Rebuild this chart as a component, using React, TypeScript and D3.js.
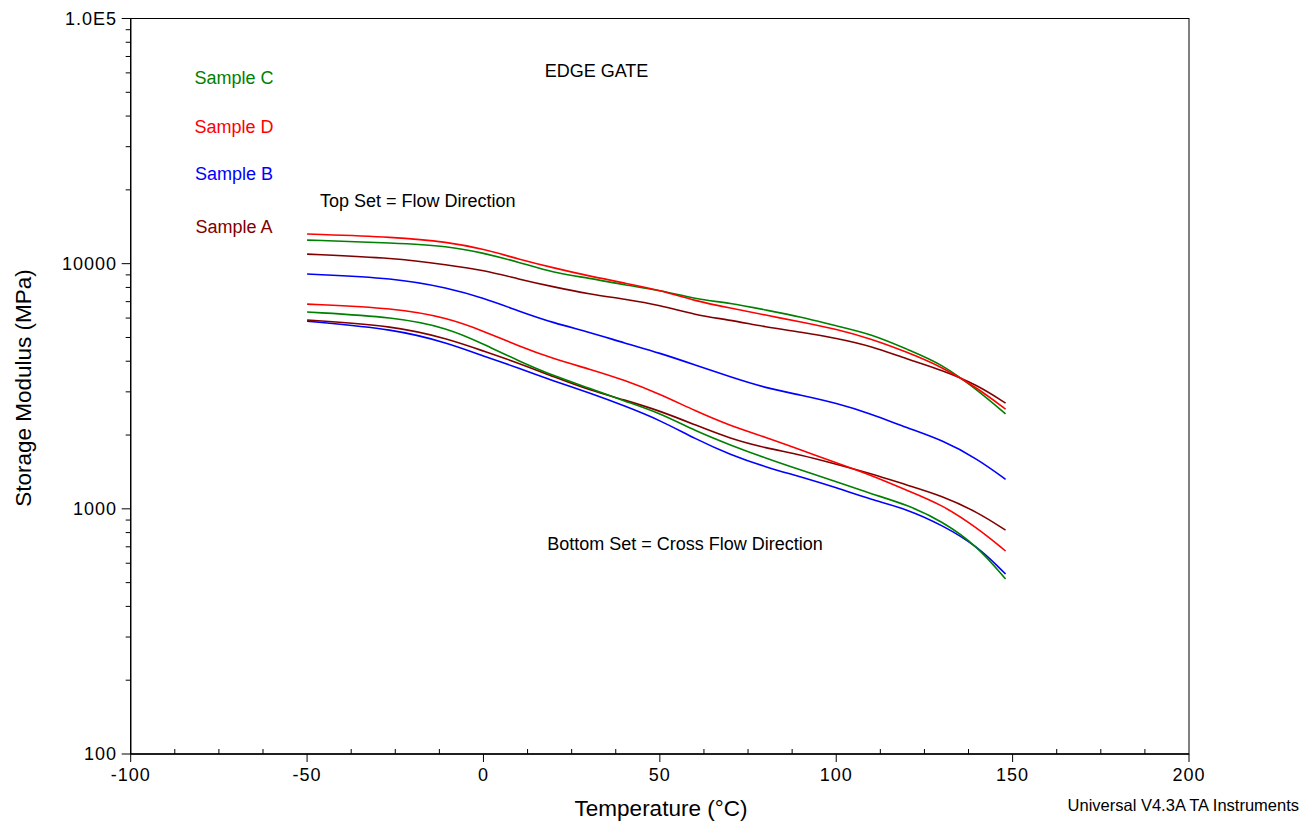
import React from 'react'
import * as d3 from 'd3'

// temperature grid (°C) that the curves were read at
const temps = [-50, -25, -10, 0, 10, 20, 30, 40, 50, 60, 70, 80, 90, 100, 110, 120, 130, 140, 148]

// storage modulus (MPa), flow direction (top set)
const sampleDFlow = [13210, 12840, 12250, 11470, 10440, 9600, 8900, 8330, 7800, 7040, 6590, 6170, 5780, 5410, 4930, 4360, 3790, 3110, 2550]
const sampleCFlow = [12480, 12140, 11800, 11050, 10150, 9160, 8740, 8180, 7800, 7170, 6910, 6470, 6060, 5570, 5160, 4480, 3900, 3050, 2440]
const sampleAFlow = [10940, 10540, 9870, 9420, 8650, 8030, 7520, 7170, 6780, 6170, 5890, 5510, 5260, 4970, 4610, 4080, 3680, 3200, 2700]
const sampleBFlow = [9070, 8740, 7950, 7240, 6410, 5720, 5260, 4740, 4320, 3860, 3450, 3110, 2910, 2700, 2440, 2140, 1910, 1600, 1320]

// storage modulus (MPa), cross flow direction (bottom set)
const sampleDCross = [6840, 6590, 6000, 5310, 4610, 4080, 3720, 3350, 2940, 2510, 2180, 1960, 1740, 1540, 1370, 1190, 1040, 835, 673]
const sampleCCross = [6350, 6060, 5460, 4700, 4010, 3480, 3110, 2750, 2460, 2080, 1820, 1610, 1440, 1290, 1150, 1040, 892, 705, 517]
const sampleACross = [5890, 5570, 4930, 4400, 3930, 3450, 3050, 2780, 2510, 2200, 1930, 1770, 1660, 1520, 1390, 1250, 1130, 970, 819]
const sampleBCross = [5830, 5410, 4740, 4200, 3750, 3320, 2970, 2630, 2300, 1930, 1660, 1480, 1350, 1220, 1090, 998, 859, 705, 542]

const xTicks = [-100, -50, 0, 50, 100, 150, 200]
const yTicks = [100, 1000, 10000, 100000]
const yTickLabels = ['100', '1000', '10000', '1.0E5']

const legend = ['Sample C', 'Sample D', 'Sample B', 'Sample A']

const GREEN = '#008000'
const RED = '#ff0000'
const BLUE = '#0000ff'
const BROWN = '#800000'

const series = [
  { values: sampleBCross, color: BLUE },
  { values: sampleACross, color: BROWN },
  { values: sampleCCross, color: GREEN },
  { values: sampleDCross, color: RED },
  { values: sampleBFlow, color: BLUE },
  { values: sampleAFlow, color: BROWN },
  { values: sampleCFlow, color: GREEN },
  { values: sampleDFlow, color: RED },
]

const legendColors = [GREEN, RED, BLUE, BROWN]
const legendY = [84, 133, 180, 233]

const font = 'Arial, "Liberation Sans", sans-serif'

const App = () => {
  const left = 130.7, right = 1189, top = 18.5, bottom = 754

  const x = d3.scaleLinear().domain([-100, 200]).range([left, right])
  const y = d3.scaleLog().domain([100, 100000]).range([bottom, top])

  const line = d3.line<number>()
    .x((d, i) => x(temps[i]))
    .y(d => y(d))
    .curve(d3.curveBasis)

  const xMinor = d3.range(-100, 200.1, 12.5).filter(t => t % 50 !== 0)
  const yMinor: number[] = []
  ;[100, 1000, 10000].forEach(b => { for (let k = 2; k <= 9; k++) yMinor.push(b * k) })

  return (
    <svg width={1308} height={827} style={{ position: 'absolute', left: 0, top: 0, background: '#fff' }} fontFamily={font}>
      <rect x={0} y={0} width={1308} height={827} fill="#fff" />

      {/* frame */}
      <rect x={left} y={top} width={right - left} height={bottom - top} fill="none" stroke="#000" strokeWidth={1} />
      <line x1={left} x2={left} y1={top} y2={bottom} stroke="#000" strokeWidth={1.3} />
      <line x1={left} x2={right} y1={bottom} y2={bottom} stroke="#000" strokeWidth={1.3} />

      {/* x ticks */}
      {xTicks.map(t => (
        <g key={'xt' + t}>
          <line x1={x(t)} x2={x(t)} y1={bottom} y2={bottom + 8} stroke="#000" />
          <text x={x(t)} y={781} textAnchor="middle" fontSize={18} letterSpacing={1}>{t}</text>
        </g>
      ))}
      {xMinor.map(t => (
        <line key={'xm' + t} x1={x(t)} x2={x(t)} y1={bottom} y2={bottom - 5} stroke="#000" />
      ))}

      {/* y ticks */}
      {yTicks.map((t, i) => (
        <g key={'yt' + t}>
          <line x1={left - 9} x2={left} y1={y(t)} y2={y(t)} stroke="#000" />
          <text x={117} y={y(t)} dy="0.36em" textAnchor="end" fontSize={18} letterSpacing={1}>{yTickLabels[i]}</text>
        </g>
      ))}
      {yMinor.map(t => (
        <line key={'ym' + t} x1={left - 5} x2={left} y1={y(t)} y2={y(t)} stroke="#000" />
      ))}

      {/* curves */}
      {series.map((s, i) => (
        <path key={'s' + i} d={line(s.values) || ''} fill="none" stroke={s.color} strokeWidth={1.6} />
      ))}

      {/* legend labels */}
      {legend.map((name, i) => (
        <text key={name} x={234} y={legendY[i]} textAnchor="middle" fontSize={18} fill={legendColors[i]}>{name}</text>
      ))}

      <text x={596.5} y={77} textAnchor="middle" fontSize={18}>EDGE GATE</text>
      <text x={320} y={207} fontSize={18}>Top Set = Flow Direction</text>
      <text x={685} y={550} textAnchor="middle" fontSize={18}>Bottom Set = Cross Flow Direction</text>

      {/* axis titles */}
      <text x={661} y={816} textAnchor="middle" fontSize={22.5}>Temperature (°C)</text>
      <text transform="translate(31,388) rotate(-90)" textAnchor="middle" fontSize={22.5}>Storage Modulus (MPa)</text>

      <text x={1299} y={811} textAnchor="end" fontSize={16.5}>Universal V4.3A TA Instruments</text>
    </svg>
  )
}

export default App
